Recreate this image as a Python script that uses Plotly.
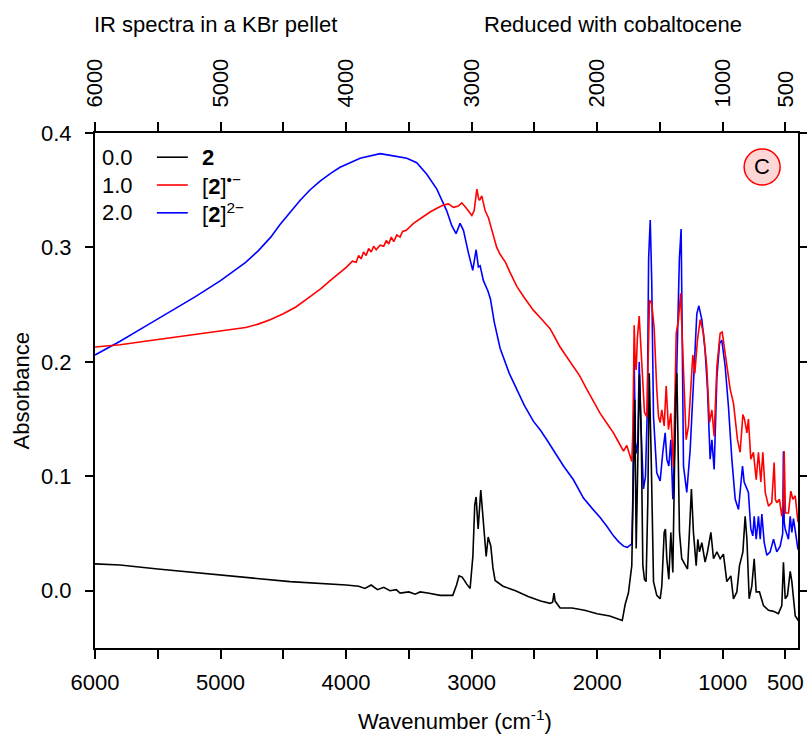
import plotly.graph_objects as go

# ---------------- data ----------------
black_wn = [6000, 5800, 5500, 5000, 4446, 4000, 3900, 3850, 3800, 3750, 3700, 3650, 3600, 3570, 3500, 3450, 3410,
            3350, 3250, 3150, 3120, 3100, 3075, 3040, 3012, 2990, 2975, 2964, 2948, 2927, 2910, 2884, 2868, 2855,
            2847, 2830, 2813, 2750, 2650, 2550, 2450, 2375, 2355, 2343, 2335, 2295, 2200, 2100, 2000, 1900, 1830,
            1800, 1777, 1751, 1724, 1711, 1700, 1689, 1676, 1663, 1649, 1636, 1623, 1610, 1596, 1585, 1570, 1551,
            1525, 1498, 1485, 1466, 1456, 1445, 1429, 1413, 1397, 1386, 1375, 1365, 1355, 1344, 1326, 1299, 1280,
            1265, 1249, 1233, 1211, 1198, 1185, 1166, 1140, 1121, 1094, 1073, 1046, 1020, 994, 967, 935, 914, 887,
            866, 839, 821, 807, 789, 768, 749, 733, 707, 675, 635, 595, 556, 529, 516, 502, 484, 462, 449, 422,
            409, 400]
black_a = [0.0235, 0.0225, 0.019, 0.014, 0.008, 0.005, 0.004, 0.002, 0.005, 0.001, 0.003, 0.000, 0.001, -0.002,
           -0.001, -0.003, -0.001, -0.002, -0.004, -0.004, 0.005, 0.013, 0.012, 0.006, 0.002, 0.030, 0.075, 0.082,
           0.054, 0.088, 0.065, 0.030, 0.047, 0.043, 0.039, 0.020, 0.009, 0.004, 0.000, -0.005, -0.009, -0.011,
           -0.010, -0.002, -0.009, -0.015, -0.015, -0.017, -0.020, -0.022, -0.025, -0.026, -0.012, -0.002, 0.022,
           0.109, 0.167, 0.037, 0.109, 0.189, 0.138, 0.022, 0.010, 0.008, 0.080, 0.190, 0.120, 0.008, -0.004,
           -0.007, 0.004, 0.051, 0.054, 0.028, 0.010, 0.051, 0.016, 0.080, 0.170, 0.190, 0.120, 0.051, 0.028,
           0.022, 0.019, 0.051, 0.089, 0.051, 0.022, 0.045, 0.034, 0.042, 0.025, 0.034, 0.051, 0.028, 0.034,
           0.028, 0.032, 0.008, 0.013, -0.007, -0.001, 0.022, 0.034, 0.065, 0.045, -0.007, 0.004, 0.028, -0.001,
           -0.001, -0.013, -0.017, -0.018, -0.020, -0.013, 0.025, -0.007, -0.004, 0.017, 0.008, -0.022, -0.024,
           -0.026]

red_wn = [6000, 5800, 5600, 5400, 5200, 5000, 4800, 4700, 4600, 4500, 4400, 4300, 4200, 4127, 4050, 3994, 3950,
          3920, 3900, 3880, 3861, 3840, 3820, 3800, 3780, 3760, 3729, 3700, 3680, 3660, 3640, 3620, 3596, 3570,
          3550, 3520, 3463, 3400, 3331, 3280, 3225, 3185, 3145, 3110, 3078, 3040, 2998, 2980, 2965, 2958, 2945,
          2937, 2919, 2905, 2892, 2866, 2845, 2826, 2800, 2773, 2730, 2693, 2640, 2580, 2507, 2440, 2375, 2330,
          2295, 2240, 2189, 2140, 2082, 2030, 1976, 1920, 1870, 1830, 1790, 1764, 1740, 1724, 1715, 1705, 1697,
          1689, 1680, 1665, 1655, 1644, 1623, 1604, 1590, 1583, 1565, 1546, 1525, 1511, 1498, 1485, 1466, 1450,
          1432, 1413, 1392, 1370, 1352, 1335, 1325, 1312, 1291, 1272, 1254, 1238, 1222, 1201, 1179, 1153, 1127,
          1105, 1086, 1068, 1046, 1020, 1004, 980, 940, 914, 882, 861, 839, 826, 807, 795, 776, 755, 733, 715,
          696, 680, 661, 635, 609, 590, 580, 569, 548, 529, 516, 510, 504, 500, 476, 457, 441, 422, 410, 404, 400]
red_a = [0.213, 0.215, 0.218, 0.221, 0.224, 0.227, 0.230, 0.233, 0.237, 0.242, 0.248, 0.256, 0.264, 0.271, 0.278,
         0.283, 0.288, 0.287, 0.293, 0.290, 0.296, 0.293, 0.299, 0.296, 0.301, 0.298, 0.302, 0.301, 0.306, 0.303,
         0.309, 0.305, 0.311, 0.309, 0.314, 0.315, 0.321, 0.326, 0.331, 0.334, 0.337, 0.338, 0.335, 0.336, 0.339,
         0.334, 0.328, 0.332, 0.345, 0.351, 0.343, 0.341, 0.345, 0.338, 0.332, 0.326, 0.318, 0.309, 0.300, 0.294,
         0.287, 0.278, 0.266, 0.256, 0.245, 0.237, 0.229, 0.220, 0.213, 0.204, 0.196, 0.188, 0.176, 0.166, 0.155,
         0.146, 0.138, 0.130, 0.122, 0.127, 0.118, 0.113, 0.140, 0.232, 0.200, 0.193, 0.220, 0.240, 0.220, 0.199,
         0.156, 0.152, 0.220, 0.254, 0.251, 0.230, 0.176, 0.152, 0.147, 0.158, 0.144, 0.179, 0.141, 0.155, 0.108,
         0.225, 0.237, 0.260, 0.230, 0.196, 0.132, 0.144, 0.181, 0.206, 0.190, 0.219, 0.237, 0.225, 0.196, 0.147,
         0.158, 0.135, 0.196, 0.225, 0.226, 0.208, 0.176, 0.164, 0.132, 0.121, 0.154, 0.150, 0.138, 0.150, 0.115,
         0.121, 0.097, 0.121, 0.095, 0.121, 0.086, 0.074, 0.077, 0.112, 0.080, 0.077, 0.080, 0.065, 0.080, 0.122,
         0.080, 0.068, 0.068, 0.087, 0.080, 0.083, 0.070, 0.063, 0.060]

blue_wn = [6000, 5800, 5600, 5400, 5200, 5000, 4800, 4700, 4600, 4526, 4446, 4367, 4290, 4207, 4120, 4048, 3888,
           3729, 3623, 3516, 3437, 3357, 3277, 3198, 3158, 3124, 3092, 3065, 3025, 2991, 2964, 2946, 2932, 2906,
           2870, 2850, 2820, 2773, 2700, 2640, 2580, 2507, 2450, 2401, 2348, 2321, 2268, 2189, 2109, 2040, 1976,
           1920, 1870, 1830, 1790, 1760, 1737, 1724, 1716, 1705, 1695, 1689, 1676, 1665, 1650, 1631, 1615, 1600,
           1590, 1577, 1565, 1551, 1525, 1498, 1477, 1458, 1445, 1429, 1413, 1397, 1378, 1360, 1345, 1331, 1320,
           1312, 1286, 1259, 1233, 1206, 1190, 1166, 1140, 1121, 1100, 1086, 1068, 1046, 1025, 1007, 980, 954, 927,
           900, 874, 861, 842, 829, 813, 795, 776, 760, 749, 733, 715, 701, 688, 669, 648, 622, 595, 569, 542, 522,
           516, 510, 502, 476, 462, 449, 436, 420, 409, 400]
blue_a = [0.206, 0.218, 0.231, 0.244, 0.257, 0.271, 0.287, 0.297, 0.309, 0.320, 0.331, 0.341, 0.350, 0.358, 0.365,
          0.370, 0.378, 0.382, 0.380, 0.378, 0.374, 0.364, 0.351, 0.332, 0.319, 0.312, 0.321, 0.315, 0.295, 0.280,
          0.298, 0.283, 0.284, 0.271, 0.262, 0.255, 0.235, 0.212, 0.190, 0.176, 0.162, 0.148, 0.140, 0.132, 0.123,
          0.118, 0.109, 0.097, 0.081, 0.072, 0.064, 0.056, 0.048, 0.043, 0.039, 0.038, 0.040, 0.041, 0.080, 0.200,
          0.130, 0.120, 0.130, 0.200, 0.140, 0.089, 0.100, 0.160, 0.290, 0.324, 0.270, 0.152, 0.103, 0.096, 0.121,
          0.138, 0.115, 0.109, 0.132, 0.080, 0.138, 0.220, 0.290, 0.316, 0.220, 0.109, 0.086, 0.123, 0.181, 0.242,
          0.249, 0.237, 0.210, 0.176, 0.115, 0.132, 0.106, 0.187, 0.216, 0.219, 0.196, 0.161, 0.115, 0.080, 0.071,
          0.089, 0.109, 0.095, 0.091, 0.086, 0.054, 0.048, 0.065, 0.045, 0.065, 0.045, 0.067, 0.042, 0.031, 0.034,
          0.045, 0.034, 0.039, 0.050, 0.122, 0.060, 0.054, 0.045, 0.065, 0.051, 0.063, 0.050, 0.039, 0.036]

legend_values = ["0.0", "1.0", "2.0"]
legend_labels = ["<b>2</b>", "[<b>2</b>]<sup>•−</sup>", "[<b>2</b>]<sup>2−</sup>"]
colors = ["#000000", "#ff0000", "#0000ff"]

x_ticks = [6000, 5500, 5000, 4500, 4000, 3500, 3000, 2500, 2000, 1500, 1000, 500]
x_ticktext = ["6000", "", "5000", "", "4000", "", "3000", "", "2000", "", "1000", "500"]
y_ticks = [0.0, 0.1, 0.2, 0.3, 0.4]
y_ticktext = ["0.0", "0.1", "0.2", "0.3", "0.4"]

FONT = "Liberation Sans, Arial, sans-serif"
FS = 22

fig = go.Figure()
for wn, a, c in [(blue_wn, blue_a, colors[2]), (red_wn, red_a, colors[1]), (black_wn, black_a, colors[0])]:
    fig.add_trace(go.Scatter(x=wn, y=a, mode="lines", line=dict(color=c, width=1.6), showlegend=False,
                             hoverinfo="skip"))
# empty trace so that the top / right mirror axes are drawn
fig.add_trace(go.Scatter(x=[], y=[], xaxis="x2", yaxis="y2", showlegend=False, hoverinfo="skip"))

axis_common = dict(showgrid=False, zeroline=False, showline=True, linecolor="black", linewidth=2,
                   ticks="outside", ticklen=9, tickwidth=1.6, tickcolor="black", automargin=False,
                   tickfont=dict(family=FONT, size=FS, color="black"))

fig.update_layout(
    width=807, height=740,
    margin=dict(l=95, r=9, t=133, b=92),
    paper_bgcolor="white", plot_bgcolor="white",
    font=dict(family=FONT, size=FS, color="black"),
    xaxis=dict(range=[6000, 400], tickvals=x_ticks, ticktext=x_ticktext, ticklabelstandoff=5, **axis_common),
    xaxis2=dict(range=[6000, 400], overlaying="x", side="top", anchor="y2", tickvals=x_ticks,
                ticktext=x_ticktext, tickangle=-90, ticklabelstandoff=10, **axis_common),
    yaxis=dict(range=[-0.05, 0.4], tickvals=y_ticks, ticktext=y_ticktext, ticklabelstandoff=9, **axis_common),
    yaxis2=dict(range=[-0.05, 0.4], overlaying="y", side="right", anchor="x2", tickvals=y_ticks,
                showticklabels=False, **{k: v for k, v in axis_common.items() if k != "tickfont"}),
)
fig.update_layout(yaxis=dict(ticklen=8), yaxis2=dict(ticklen=7))

annotations = [
    dict(text="IR spectra in a KBr pellet", x=0.171, y=1.21, xref="paper", yref="paper", showarrow=False,
         xanchor="center", yanchor="middle", font=dict(size=FS)),
    dict(text="Reduced with cobaltocene", x=0.737, y=1.21, xref="paper", yref="paper", showarrow=False,
         xanchor="center", yanchor="middle", font=dict(size=FS)),
    dict(text="Wavenumber (cm<sup>-1</sup>)", x=0.512, y=-0.14, xref="paper", yref="paper", showarrow=False,
         xanchor="center", yanchor="middle", font=dict(size=FS)),
    dict(text="Absorbance", x=-0.104, y=0.5, xref="paper", yref="paper", showarrow=False, textangle=-90,
         xanchor="center", yanchor="middle", font=dict(size=FS)),
    dict(text="C", x=0.949, y=0.934, xref="paper", yref="paper", showarrow=False,
         xanchor="center", yanchor="middle", font=dict(size=FS)),
]
shapes = [
    dict(type="circle", xref="paper", yref="paper", xsizemode="pixel", ysizemode="pixel",
         xanchor=0.949, yanchor=0.934, x0=-18, x1=18, y0=-18, y1=18,
         fillcolor="#ffd6d6", line=dict(color="#ff0000", width=1.5)),
]
row_y = [0.953, 0.899, 0.845]
for v, lab, c, yy in zip(legend_values, legend_labels, colors, row_y):
    annotations.append(dict(text=v, x=0.007, y=yy, xref="paper", yref="paper", showarrow=False,
                            xanchor="left", yanchor="middle", font=dict(size=FS)))
    annotations.append(dict(text=lab, x=0.149, y=yy, xref="paper", yref="paper", showarrow=False,
                            xanchor="left", yanchor="middle", font=dict(size=FS)))
    shapes.append(dict(type="line", xref="paper", yref="paper", x0=0.088, x1=0.132, y0=yy, y1=yy,
                       line=dict(color=c, width=1.6)))
fig.update_layout(annotations=annotations, shapes=shapes)

fig.write_html("out.html")
